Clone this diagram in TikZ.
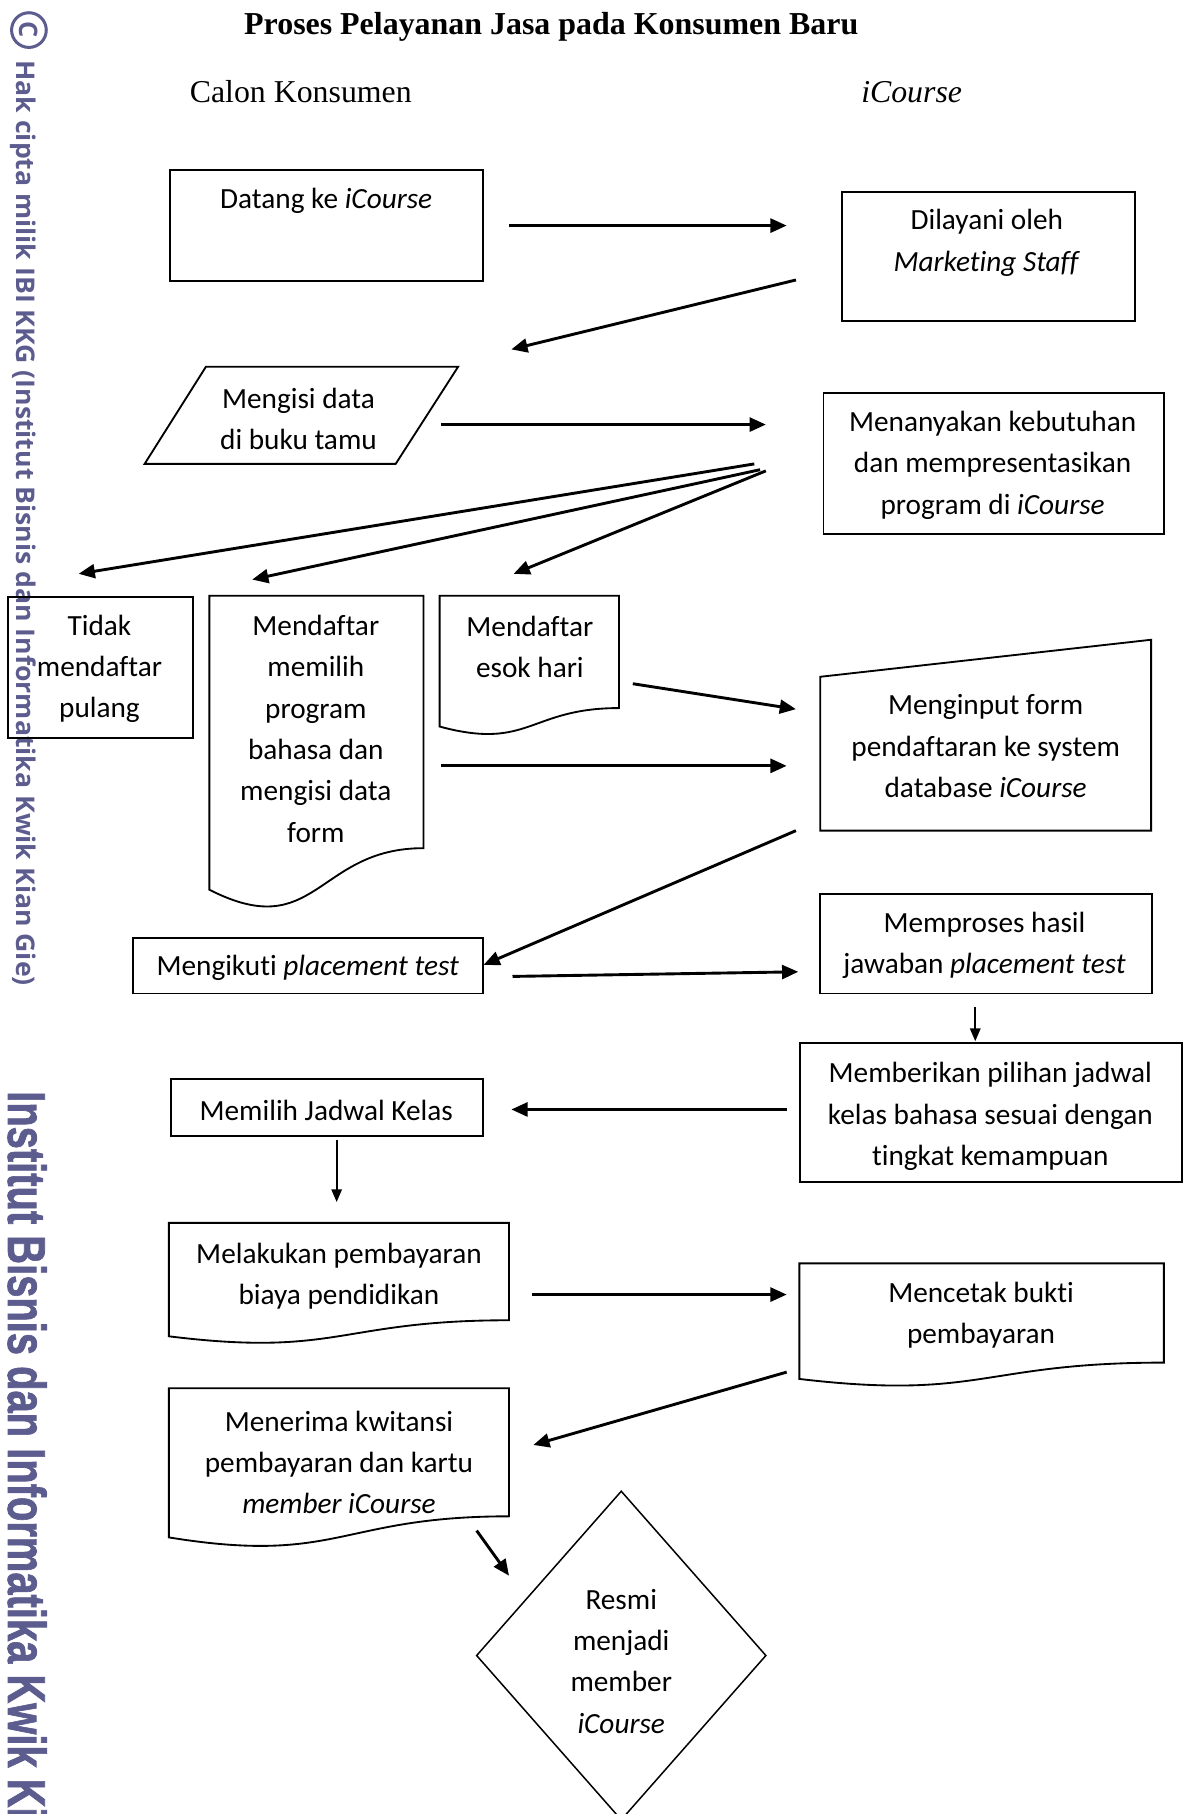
\documentclass[tikz,border=0pt]{standalone}
\usepackage{fontspec}
\usepackage{graphicx}
\setmainfont{Carlito}[Ligatures={NoCommon}]
\newfontfamily\tnr{Liberation Serif}
\newfontfamily\wmA{Open Sans}
\newfontfamily\wmB{Liberation Sans}[BoldFeatures={FakeBold=1.6}]
\usetikzlibrary{arrows.meta}
\definecolor{wm}{RGB}{92,92,142}
\newcommand\docpath[4]{% left, right, top, height
  (#1,#3) -- (#2,#3) -- (#2,{#3+0.802*#4})
  .. controls ({(#1+#2)/2},{#3+0.802*#4}) and ({(#1+#2)/2},{#3+1.1075*#4}) .. (#1,{#3+0.934*#4}) -- cycle}
\begin{document}
\begin{tikzpicture}[x=1pt,y=-1pt,
  shp/.style={draw=black,line width=1.6pt,line join=miter},
  box/.style={shp,rectangle,inner sep=0pt,anchor=north west},
  txt/.style={align=center,inner sep=0pt,font=\fontsize{25.3}{35.7}\selectfont},
  hdr/.style={inner sep=0pt,anchor=base,font=\tnr\fontsize{27.5}{30}\selectfont},
  arr/.style={line width=2.5pt,-{Triangle[length=14pt,width=12pt]}},
  thinarr/.style={line width=1.5pt,-{Triangle[length=11pt,width=9pt]}},
]
\fill[white] (0,0) rectangle (1030,1568);
\useasboundingbox (0,0) rectangle (1030,1568);

% watermark
\node[circle, draw=wm, line width=2.6pt, minimum size=30pt, inner sep=0pt, text=wm,
      font=\wmA\bfseries\fontsize{22}{22}\selectfont, rotate=-90] (copyr) at (25,26) {C};
\node[rotate=-90, anchor=base west, inner sep=0pt, text=wm] (wm1) at (14.5,52)
  {\resizebox{800pt}{17pt}{\wmA\bfseries Hak cipta milik IBI KKG (Institut Bisnis dan Informatika Kwik Kian Gie)}};
\node[rotate=-90, anchor=base west, inner sep=0pt, text=wm] (wm2) at (7,943)
  {\scalebox{0.75}[1]{\wmB\bfseries\fontsize{46}{46}\selectfont Institut Bisnis dan Informatika Kwik Kian Gie}};

% headings
\node[hdr, font=\tnr\bfseries\fontsize{27.6}{30}\selectfont] (title) at (476.5,30) {Proses Pelayanan Jasa pada Konsumen Baru};
\node[hdr] (hcalon) at (260,89) {Calon Konsumen};
\node[hdr] (hicourse) at (788,89) {\textit{iCourse}};

% shapes
\node[box, minimum width=271pt, minimum height=96pt] (bdatang) at (146,146) {};
\node[box, minimum width=253pt, minimum height=112pt] (bdilayani) at (727,165) {};
\draw[shp] (178,317) -- (396,317) -- (342,401) -- (125,401) -- cycle;
\node[box, minimum width=294pt, minimum height=122pt] (bmenanya) at (711,339) {};
\node[box, minimum width=160pt, minimum height=122pt] (btidak) at (6,515) {};
\draw[shp] \docpath{181}{366}{515}{272};
\draw[shp] \docpath{380}{535}{515}{121};
\draw[shp] (709,585) -- (995,553) -- (995,718) -- (709,718) -- cycle;
\node[box, minimum width=303pt, minimum height=48pt] (bikuti) at (114,810) {};
\node[box, minimum width=287pt, minimum height=86pt] (bproses) at (708,772) {};
\node[box, minimum width=330pt, minimum height=120pt] (bberi) at (691,901) {};
\node[box, minimum width=270pt, minimum height=49pt] (bpilih) at (147,932) {};
\draw[shp] \docpath{146}{440}{1057}{105};
\draw[shp] \docpath{691}{1006}{1092}{107};
\draw[shp] \docpath{146}{440}{1200}{138};
\draw[shp, line width=1.3pt] (537,1289) -- (662,1431) -- (537,1573) -- (412,1431) -- cycle;

% texts
\node[txt] (tdatang) at (282,174) {Datang ke \textit{iCourse}};
\node[txt] (tdilayani) at (853,210) {Dilayani oleh\\\textit{Marketing Staff}};
\node[txt] (tmengisi) at (258,362) {Mengisi data\\di buku tamu};
\node[txt] (tmenanya) at (858,402) {Menanyakan kebutuhan\\dan mempresentasikan\\program di \textit{iCourse}};
\node[txt] (ttidak) at (86,578) {Tidak\\mendaftar\\pulang};
\node[txt] (tdaftar) at (273,630) {Mendaftar\\memilih\\program\\bahasa dan\\mengisi data\\form};
\node[txt] (tesok) at (458,559) {Mendaftar\\esok hari};
\node[txt] (tinput) at (852,645) {Menginput form\\pendaftaran ke system\\database \textit{iCourse}};
\node[txt] (tikuti) at (266,837) {Mengikuti \textit{placement test}};
\node[txt] (tproses) at (851,817) {Memproses hasil\\jawaban \textit{placement test}};
\node[txt] (tberi) at (856,965) {Memberikan pilihan jadwal\\kelas bahasa sesuai dengan\\tingkat kemampuan};
\node[txt] (tpilih) at (282,960) {Memilih Jadwal Kelas};
\node[txt] (tbayar) at (293,1103) {Melakukan pembayaran\\biaya pendidikan};
\node[txt] (tcetak) at (848,1137) {Mencetak bukti\\pembayaran};
\node[txt] (tterima) at (293,1264) {Menerima kwitansi\\pembayaran dan kartu\\\textit{member iCourse}};
\node[txt] (tresmi) at (537,1436) {Resmi\\menjadi\\member\\\textit{iCourse}};

% connector end points
\coordinate (a1s) at (440,195);  \coordinate (a1e) at (680,195);
\coordinate (a2s) at (688,242);  \coordinate (a2e) at (442,302);
\coordinate (a3s) at (381,367);  \coordinate (a3e) at (662,367);
\coordinate (a4s) at (652,401);  \coordinate (a4e) at (68,496);
\coordinate (a5s) at (657,406);  \coordinate (a5e) at (218,501);
\coordinate (a6s) at (662,407);  \coordinate (a6e) at (444,496);
\coordinate (a7s) at (547,591);  \coordinate (a7e) at (688,613);
\coordinate (a8s) at (381,662);  \coordinate (a8e) at (680,662);
\coordinate (a9s) at (688,718);  \coordinate (a9e) at (418,834);
\coordinate (a10s) at (443,844); \coordinate (a10e) at (690,840);
\coordinate (a11s) at (843,870); \coordinate (a11e) at (843,900);
\coordinate (a12s) at (680,959); \coordinate (a12e) at (442,959);
\coordinate (a13s) at (291,985); \coordinate (a13e) at (291,1039);
\coordinate (a14s) at (460,1119); \coordinate (a14e) at (680,1119);
\coordinate (a15s) at (680,1186); \coordinate (a15e) at (461,1249);
\coordinate (a16s) at (412,1323); \coordinate (a16e) at (440,1362);

\draw[arr] (a1s) -- (a1e);
\draw[arr] (a2s) -- (a2e);
\draw[arr] (a3s) -- (a3e);
\draw[arr] (a4s) -- (a4e);
\draw[arr] (a5s) -- (a5e);
\draw[arr] (a6s) -- (a6e);
\draw[arr] (a7s) -- (a7e);
\draw[arr] (a8s) -- (a8e);
\draw[arr] (a9s) -- (a9e);
\draw[arr] (a10s) -- (a10e);
\draw[thinarr] (a11s) -- (a11e);
\draw[arr] (a12s) -- (a12e);
\draw[thinarr] (a13s) -- (a13e);
\draw[arr] (a14s) -- (a14e);
\draw[arr] (a15s) -- (a15e);
\draw[arr] (a16s) -- (a16e);
\end{tikzpicture}
\end{document}
